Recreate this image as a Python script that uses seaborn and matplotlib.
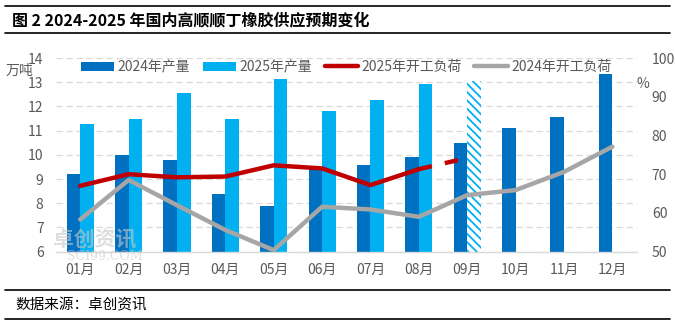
import numpy as np
import pandas as pd
import matplotlib
matplotlib.use("Agg")
import matplotlib.pyplot as plt
import seaborn as sns
from matplotlib.patches import Patch
from matplotlib.lines import Line2D

months = ["01月", "02月", "03月", "04月", "05月", "06月", "07月", "08月", "09月", "10月", "11月", "12月"]
prod_2024 = [9.2, 10.0, 9.8, 8.4, 7.9, 9.4, 9.6, 9.9, 10.5, 11.1, 11.55, 13.35]
prod_2025 = [11.27, 11.48, 12.55, 11.48, 13.13, 11.8, 12.26, 12.93, 13.05, np.nan, np.nan, np.nan]
load_2025 = [67.0, 70.0, 69.2, 69.4, 72.3, 71.5, 67.2, 71.3, 74.2, np.nan, np.nan, np.nan]
load_2024 = [58.3, 68.5, 62.0, 55.6, 50.4, 61.6, 60.9, 59.0, 64.6, 65.9, 70.6, 77.1]
series_names = ["2024年产量", "2025年产量", "2025年开工负荷", "2024年开工负荷"]
forecast_month = "09月"
title = "图 2 2024-2025 年国内高顺顺丁橡胶供应预期变化"
source = "数据来源：卓创资讯"

sns.set_theme(style="white")
plt.rcParams["font.family"] = ["Noto Sans CJK SC", "DejaVu Sans"]
plt.rcParams["hatch.linewidth"] = 1.3

C24 = "#0070C0"
C25 = "#00B0F0"
CRED = "#C00000"
CGRAY = "#A6A6A6"
TXT = "#595959"

fig = plt.figure(figsize=(6.75, 3.26), dpi=100)
ax = fig.add_axes([0.083, 0.228, 0.860, 0.594])

df = pd.DataFrame({
    "month": months * 2,
    "value": prod_2024 + prod_2025,
    "series": [series_names[0]] * 12 + [series_names[1]] * 12,
})
sns.barplot(data=df, x="month", y="value", hue="series", order=months,
            hue_order=series_names[:2], palette=[C24, C25], width=0.56, gap=0,
            dodge=True, ax=ax, legend=False, saturation=1, edgecolor="none", linewidth=0)

# forecast bar -> hatched
fi = months.index(forecast_month)
bars25 = ax.containers[1]
p = bars25.patches[fi]
p.set_facecolor("white")
p.set_edgecolor(C25)
p.set_hatch("\\\\\\\\")
p.set_linewidth(0)

ax.set_ylim(6, 14)
ax.set_yticks(np.arange(6, 15, 1))
ax.set_xlim(-0.5, len(months) - 0.5)
ax.set_xlabel("")
ax.set_ylabel("")
ax.yaxis.grid(True, color="#D9D9D9", linestyle=(0, (5, 3)), linewidth=0.9)
ax.set_axisbelow(True)
for s in ["top", "left", "right"]:
    ax.spines[s].set_visible(False)
ax.spines["bottom"].set_color("#D9D9D9")
ax.spines["bottom"].set_linewidth(1.0)
ax.tick_params(axis="x", which="major", length=0, pad=8, labelsize=10, labelcolor=TXT)
ax.set_xticks(np.arange(-0.5, len(months), 1), minor=True)
ax.tick_params(axis="x", which="minor", length=5, color="#D9D9D9", width=1.0)
ax.tick_params(axis="y", length=0, pad=9, labelsize=10, labelcolor=TXT)

ax2 = ax.twinx()
xs = np.arange(len(months))
l25 = np.array(load_2025, dtype=float)
sns.lineplot(x=xs[:fi], y=l25[:fi], ax=ax2, color=CRED, linewidth=3.2, legend=False)
ax2.plot(xs[fi - 1:fi + 1], l25[fi - 1:fi + 1], color=CRED, linewidth=3.2,
         dashes=(3.0, 3.0), dash_capstyle="butt")
sns.lineplot(x=xs, y=np.array(load_2024, dtype=float), ax=ax2, color=CGRAY,
             linewidth=3.2, legend=False)
ax2.set_ylim(50, 100)
ax2.set_yticks(np.arange(50, 101, 10))
ax2.set_ylabel("")
for s in ["top", "left", "right", "bottom"]:
    ax2.spines[s].set_visible(False)
ax2.tick_params(axis="y", length=0, pad=11, labelsize=10, labelcolor=TXT)
ax2.grid(False)

# unit labels
fig.text(33 / 675, 1 - 71 / 326, "万吨", fontsize=10, color=TXT, ha="right", va="center")
fig.text(643 / 675, 1 - 84 / 326, "%", fontsize=10, color=TXT, ha="center", va="center")

handles = [
    Patch(facecolor=C24, edgecolor="none"),
    Patch(facecolor=C25, edgecolor="none"),
    Line2D([0], [0], color=CRED, linewidth=3.2),
    Line2D([0], [0], color=CGRAY, linewidth=3.2),
]
fig.legend(handles, series_names, loc="center", bbox_to_anchor=(346 / 675, 1 - 67 / 326),
           ncol=4, frameon=False, fontsize=10, handlelength=2.4, handleheight=0.6,
           columnspacing=0.9, handletextpad=0.25, labelcolor=TXT, borderpad=0)

# watermark
fig.text(95 / 675, 1 - 240 / 326, "卓创资讯", fontsize=15, color="#C8C8C8", alpha=0.6,
         ha="center", va="center", fontweight="bold")
fig.text(105 / 675, 1 - 256 / 326, "SCI99.COM", fontsize=9, color="#C8C8C8", alpha=0.6,
         ha="center", va="center", family="DejaVu Serif")

# title and footer with rules
fig.add_artist(Line2D([5 / 675, 670 / 675], [1 - 6 / 326] * 2, color="black", linewidth=1.2))
fig.add_artist(Line2D([5 / 675, 670 / 675], [1 - 33 / 326] * 2, color="black", linewidth=1.2))
fig.text(12 / 675, 1 - 20 / 326, title, fontsize=11.5, fontweight="bold", color="black",
         ha="left", va="center")
fig.add_artist(Line2D([5 / 675, 670 / 675], [1 - 290 / 326] * 2, color="black", linewidth=1.2))
fig.add_artist(Line2D([5 / 675, 670 / 675], [1 - 319 / 326] * 2, color="black", linewidth=1.2))
fig.text(15 / 675, 1 - 305 / 326, source, fontsize=10.5, color="black", ha="left", va="center")

fig.savefig("out.png", dpi=100)
